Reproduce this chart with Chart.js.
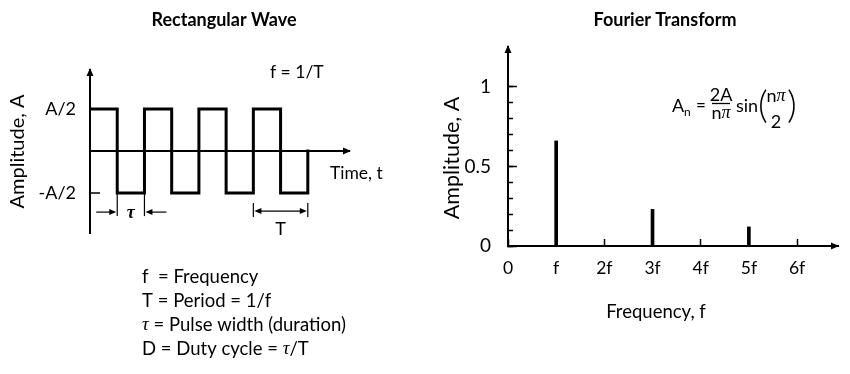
<!DOCTYPE html>
<html>
<head>
<meta charset="utf-8">
<script src="https://cdn.jsdelivr.net/npm/chart.js@4.4.0/dist/chart.umd.min.js"></script>
<style>
html,body{margin:0;padding:0;background:#fff;}
#wrap{position:relative;width:850px;height:374px;background:#fff;}
canvas{position:absolute;top:0;}
</style>
</head>
<body>
<div id="wrap">
<canvas id="left" width="425" height="374" style="left:0"></canvas>
<canvas id="right" width="425" height="374" style="left:425px"></canvas>
</div>
<script>
// ---------- data ----------
const waveTimes = [0, 1, 2, 3, 4, 5, 6, 7, 8];
const waveLevels = [1, -1, 1, -1, 1, -1, 1, -1, 0];
const waveTickValues = [-1, 0, 1];
const waveTickLabels = ['-A/2', '', 'A/2'];
const pulseWidthSpan = [1, 2];
const periodSpan = [6, 8];

const harmonicFreqs = [1, 3, 5];
const harmonicAmps = [0.66, 0.23, 0.12];
const freqTickValues = [0, 1, 2, 3, 4, 5, 6];
const freqTickLabels = ['0', 'f', '2f', '3f', '4f', '5f', '6f'];
const ampMajorValues = [0, 0.5, 1];
const ampMajorLabels = ['0', '0.5', '1'];
const ampMinorValues = [0, 0.1, 0.2, 0.3, 0.4, 0.5, 0.6, 0.7, 0.8, 0.9, 1.0];

const legendLines = [
  [['f  = Frequency', 'n']],
  [['T = Period = 1/f', 'n']],
  [['\u03C4', 's'], [' = Pulse width (duration)', 'n']],
  [['D = Duty cycle = ', 'n'], ['\u03C4', 's'], ['/T', 'n']]
];

// ---------- style ----------
const FONT = 'Lato';
const SERIF = '"Liberation Serif"';
Chart.defaults.font.family = FONT;
Chart.defaults.color = '#000';

function drawRuns(ctx, parts, x, y, align) {
  let total = 0;
  parts.forEach(p => { ctx.font = p[1]; total += ctx.measureText(p[0]).width; });
  let cx = align === 'center' ? x - total / 2 : (align === 'right' ? x - total : x);
  ctx.textAlign = 'left';
  ctx.textBaseline = 'middle';
  parts.forEach(p => { ctx.font = p[1]; ctx.fillText(p[0], cx, y); cx += ctx.measureText(p[0]).width; });
}
function head(ctx, x, y, dir, len, half) {
  len = len || 7; half = half || 3.5;
  ctx.beginPath();
  if (dir === 'up') { ctx.moveTo(x, y); ctx.lineTo(x - half, y + len); ctx.lineTo(x + half, y + len); }
  if (dir === 'right') { ctx.moveTo(x, y); ctx.lineTo(x - len, y - half); ctx.lineTo(x - len, y + half); }
  if (dir === 'left') { ctx.moveTo(x, y); ctx.lineTo(x + len, y - half); ctx.lineTo(x + len, y + half); }
  ctx.closePath();
  ctx.fill();
}
function line(ctx, x1, y1, x2, y2, w) {
  ctx.lineWidth = w || 1;
  ctx.beginPath(); ctx.moveTo(x1, y1); ctx.lineTo(x2, y2); ctx.stroke();
}

// ---------- left chart: rectangular wave ----------
const leftDecor = {
  id: 'leftDecor',
  afterDraw(chart) {
    const {ctx, chartArea: a, scales: {x, y}} = chart;
    ctx.save();
    ctx.fillStyle = '#000'; ctx.strokeStyle = '#000';
    const y0 = y.getPixelForValue(0);
    head(ctx, a.left, a.top - 2, 'up', 8, 3.5);
    head(ctx, a.right + 1, y0, 'right', 8, 3.5);

    // title
    ctx.font = 'bold 18px ' + FONT;
    ctx.textAlign = 'center'; ctx.textBaseline = 'middle';
    ctx.fillText('Rectangular Wave', 224, 20);

    ctx.font = '17.5px ' + FONT;
    ctx.textAlign = 'left';
    ctx.fillText('f = 1/T', 270, 72);
    ctx.fillText('Time, t', 330, 173);

    // pulse width annotation
    const yLow = y.getPixelForValue(-1);
    const p0 = x.getPixelForValue(pulseWidthSpan[0]);
    const p1 = x.getPixelForValue(pulseWidthSpan[1]);
    line(ctx, p0, yLow, p0, yLow + 23, 1.2);
    line(ctx, p1, yLow, p1, yLow + 23, 1.2);
    const ay = yLow + 19;
    line(ctx, p0 - 21, ay, p0 - 5, ay, 1.2);
    head(ctx, p0 - 1, ay, 'right', 7, 3);
    line(ctx, p1 + 22, ay, p1 + 5, ay, 1.2);
    head(ctx, p1 + 1, ay, 'left', 7, 3);
    ctx.font = 'italic bold 18px ' + SERIF;
    ctx.textAlign = 'center';
    ctx.fillText('\u03C4', (p0 + p1) / 2, ay + 1);

    // period annotation
    const q0 = x.getPixelForValue(periodSpan[0]);
    const q1 = x.getPixelForValue(periodSpan[1]);
    line(ctx, q0, yLow + 10, q0, yLow + 24, 1.2);
    line(ctx, q1, yLow + 10, q1, yLow + 24, 1.2);
    line(ctx, q0 + 4, ay - 1, q1 - 4, ay - 1, 1.2);
    head(ctx, q0 + 1, ay - 1, 'left', 7, 3);
    head(ctx, q1 - 1, ay - 1, 'right', 7, 3);
    ctx.font = '18px ' + FONT;
    ctx.fillText('T', (q0 + q1) / 2, yLow + 36);

    // definitions
    const ys = [277, 301, 325, 349];
    legendLines.forEach((ln, i) => {
      const parts = ln.map(p => [p[0], p[1] === 's' ? 'italic 19px ' + SERIF : '18.5px ' + FONT]);
      drawRuns(ctx, parts, 142, ys[i], 'left');
    });
    ctx.restore();
  }
};

new Chart(document.getElementById('left'), {
  type: 'line',
  data: {
    datasets: [{
      data: waveTimes.map((t, i) => ({x: t, y: waveLevels[i]})),
      stepped: 'before',
      borderColor: '#000',
      borderWidth: 3,
      pointRadius: 0,
      fill: false,
      borderJoinStyle: 'miter',
      borderCapStyle: 'square'
    }]
  },
  options: {
    responsive: false,
    animation: false,
    events: [],
    layout: {padding: {left: 0, right: 75, top: 70, bottom: 141}},
    plugins: {legend: {display: false}, tooltip: {enabled: false}},
    scales: {
      x: {type: 'linear', min: 0, max: 9.55, display: false},
      y: {
        type: 'linear', min: -1.95, max: 1.93,
        afterBuildTicks: s => { s.ticks = waveTickValues.map(v => ({value: v})); },
        afterFit: s => { s.width = 90; },
        ticks: {
          callback: v => waveTickLabels[waveTickValues.indexOf(v)],
          padding: 24, color: '#000', font: {size: 18}
        },
        grid: {
          drawOnChartArea: true,
          color: c => (c.tick && c.tick.value === 0) ? '#000' : 'rgba(0,0,0,0)',
          lineWidth: 2,
          drawTicks: true, tickLength: -10, tickColor: '#000', tickWidth: 1.5
        },
        border: {display: true, color: '#000', width: 2},
        title: {display: true, text: 'Amplitude, A', color: '#000', font: {size: 20}, padding: {top: 6, bottom: 0}}
      }
    }
  },
  plugins: [leftDecor]
});

// ---------- right chart: Fourier transform ----------
const rightDecor = {
  id: 'rightDecor',
  afterDraw(chart) {
    const {ctx, chartArea: a, scales: {x, y}} = chart;
    ctx.save();
    ctx.fillStyle = '#000'; ctx.strokeStyle = '#000';
    const xb = y.getPixelForValue(0);
    head(ctx, a.left, a.top - 2, 'up', 8, 3.5);
    head(ctx, a.right + 1, xb, 'right', 8, 3.5);

    ctx.font = 'bold 18px ' + FONT;
    ctx.textAlign = 'center'; ctx.textBaseline = 'middle';
    ctx.fillText('Fourier Transform', 240, 20);

    ctx.font = '18.5px ' + FONT;
    ctx.fillText('Frequency, f', 231, 312);

    // y-axis title
    ctx.save();
    ctx.translate(27, 158);
    ctx.rotate(-Math.PI / 2);
    ctx.font = '21.5px ' + FONT;
    ctx.fillText('Amplitude, A', 0, 0);
    ctx.restore();

    // formula  A_n = 2A/(n pi) sin(n pi / 2)
    const PI = '\u03C0';
    ctx.textAlign = 'left';
    ctx.font = '18px ' + FONT;
    ctx.fillText('A', 247, 106);
    ctx.font = '12px ' + FONT;
    ctx.fillText('n', 259, 112);
    ctx.font = '17px ' + FONT;
    ctx.fillText('=', 271, 106);
    drawRuns(ctx, [['2A', '18px ' + FONT]], 296, 95, 'center');
    line(ctx, 287, 103.5, 305, 103.5, 1.3);
    drawRuns(ctx, [['n', '18px ' + FONT], [PI, 'italic 18px ' + SERIF]], 296, 113, 'center');
    ctx.font = '18px ' + FONT;
    ctx.textAlign = 'left';
    ctx.fillText('sin', 311, 106);
    ctx.font = '300 38px ' + FONT;
    ctx.fillText('(', 333, 106);
    ctx.fillText(')', 362, 106);
    drawRuns(ctx, [['n', '18px ' + FONT], [PI, 'italic 18px ' + SERIF]], 351, 96, 'center');
    drawRuns(ctx, [['2', '18px ' + FONT]], 351, 122, 'center');
    ctx.restore();
  }
};

new Chart(document.getElementById('right'), {
  type: 'bar',
  data: {
    datasets: [{
      data: harmonicFreqs.map((f, i) => ({x: f, y: harmonicAmps[i]})),
      backgroundColor: '#000',
      borderWidth: 0,
      barThickness: 3
    }]
  },
  options: {
    responsive: false,
    animation: false,
    events: [],
    layout: {padding: {left: 0, right: 12, top: 47, bottom: 0}},
    plugins: {legend: {display: false}, tooltip: {enabled: false}},
    scales: {
      x: {
        type: 'linear', min: 0, max: 6.85, offset: false,
        afterBuildTicks: s => { s.ticks = freqTickValues.map(v => ({value: v})); },
        afterFit: s => { s.height = 128; },
        ticks: {
          callback: v => freqTickLabels[freqTickValues.indexOf(v)],
          padding: 19, color: '#000', font: {size: 17.5}, maxRotation: 0, autoSkip: false
        },
        grid: {offset: false, drawOnChartArea: false, drawTicks: true, tickLength: -7, tickColor: '#000', tickWidth: 1.5},
        border: {display: true, color: '#000', width: 2}
      },
      y: {
        type: 'linear', position: 'left', min: 0, max: 1.25, weight: 1,
        afterBuildTicks: s => { s.ticks = ampMajorValues.map(v => ({value: v})); },
        afterFit: s => { s.width = 83; },
        ticks: {
          callback: v => ampMajorLabels[ampMajorValues.indexOf(v)],
          padding: 26, color: '#000', font: {size: 19}
        },
        grid: {drawOnChartArea: false, drawTicks: true, tickLength: -9, tickColor: '#000', tickWidth: 1.5},
        border: {display: true, color: '#000', width: 2}
      },
      yMinor: {
        type: 'linear', position: 'left', axis: 'y', min: 0, max: 1.25, weight: 0,
        afterBuildTicks: s => { s.ticks = ampMinorValues.map(v => ({value: v})); },
        afterFit: s => { s.width = 0; },
        ticks: {display: false},
        grid: {drawOnChartArea: false, drawTicks: true, tickLength: -5, tickColor: '#000', tickWidth: 1.5},
        border: {display: false}
      }
    }
  },
  plugins: [rightDecor]
});
</script>
</body>
</html>
